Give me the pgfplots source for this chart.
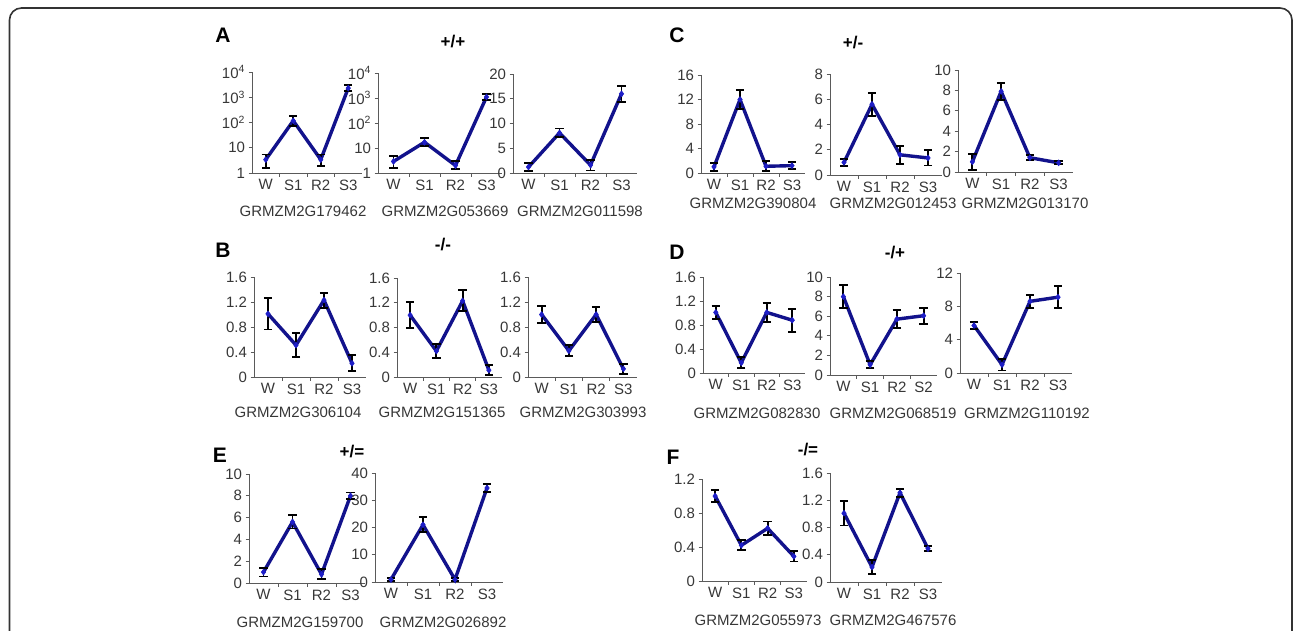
\documentclass[border=0pt]{standalone}
\usepackage{fontspec}
\setmainfont{Liberation Sans}
\usepackage{pgfplots}
\pgfplotsset{compat=1.18}
\definecolor{navyline}{RGB}{18,18,140}
\definecolor{navymark}{RGB}{30,30,200}
\definecolor{axgray}{RGB}{90,90,90}
\definecolor{txtgray}{RGB}{55,55,55}

\pgfplotsset{
  panel/.style={
    scale only axis, clip=false,
    axis lines*=left,
    axis line style={axgray,line width=0.9pt},
    xmin=0.5,xmax=4.5,
    xtick={1.5,2.5,3.5},xticklabels={},
    extra x ticks={1,2,3,4},
    extra x tick labels={W,S1,R2,S3},
    extra x tick style={major tick length=0pt},
    tick align=outside,major tick length=3.5pt,
    tick style={axgray,line width=0.9pt},
    ticklabel style={font=\fontsize{15}{17}\selectfont,text=txtgray},
    xticklabel style={yshift=-3pt},
    /pgf/number format/assume math mode=true,
  },
  series/.style={navyline,line width=3.4pt,
    mark=diamond*,mark size=3pt,mark options={navymark,line width=0.5pt},
    error bars/.cd,y dir=both,y explicit,
    error bar style={black,line width=1.9pt},
    error mark options={rotate=90,black,mark size=4.2pt,line width=1.9pt}},
}
\tikzset{
  gene/.style={font=\fontsize{15}{17}\selectfont,text=txtgray},
  letter/.style={font=\fontsize{21}{24}\selectfont\bfseries},
  group/.style={font=\fontsize{17}{20}\selectfont\bfseries},
}

\begin{document}
\begin{tikzpicture}
\useasboundingbox (0pt,0pt) rectangle (1293pt,-630pt);
\draw[line width=1.6pt,black!80,rounded corners=12pt]
  (9.5pt,-660pt) -- (9.5pt,-8pt) -- (1292pt,-8pt) -- (1292pt,-660pt);

% ---------- A : +/+
\node[letter] at (223pt,-35pt) {A};
\node[group] at (453pt,-42pt) {+/+};
\begin{axis}[panel,at={(252pt,-173pt)},width=110pt,height=101pt,
  ymode=log,ymin=1,ymax=10000,yminorticks=false,
  ytick={1,10,100,1000,10000},
  yticklabels={1,10,10\textsuperscript{2},10\textsuperscript{3},10\textsuperscript{4}}]
\addplot[series] coordinates {
  (1,3.4) += (0,2.0) -= (0,1.8)
  (2,117) += (0,68) -= (0,43)
  (3,3.4) += (0,2.0) -= (0,1.5)
  (4,2300) += (0,800) -= (0,600)};
\end{axis}
\begin{axis}[panel,at={(378pt,-173pt)},width=124pt,height=100pt,
  ymode=log,ymin=1,ymax=10000,yminorticks=false,
  ytick={1,10,100,1000,10000},
  yticklabels={1,10,10\textsuperscript{2},10\textsuperscript{3},10\textsuperscript{4}}]
\addplot[series] coordinates {
  (1,2.9) += (0,1.7) -= (0,1.3)
  (2,17) += (0,8) -= (0,5)
  (3,2.0) += (0,1.0) -= (0,0.6)
  (4,1100) += (0,400) -= (0,250)};
\end{axis}
\begin{axis}[panel,at={(513pt,-173pt)},width=124pt,height=99pt,
  ymin=0,ymax=20,ytick={0,5,10,15,20},yticklabels={0,5,10,15,20}]
\addplot[series] coordinates {
  (1,1.2) +- (0,0.8) (2,8.1) +- (0,0.9) (3,1.6) +- (0,1.1) (4,16) +- (0,1.6)};
\end{axis}
\node[gene] at (303pt,-211pt) {GRMZM2G179462};
\node[gene] at (445pt,-211pt) {GRMZM2G053669};
\node[gene] at (580pt,-211pt) {GRMZM2G011598};

% ---------- C : +/-
\node[letter] at (677pt,-35pt) {C};
\node[group] at (853pt,-43pt) {+/-};
\begin{axis}[panel,at={(701pt,-173pt)},width=104pt,height=98pt,
  ymin=0,ymax=16,ytick={0,4,8,12,16},yticklabels={0,4,8,12,16}]
\addplot[series] coordinates {
  (1,1.0) +- (0,0.7) (2,12) +- (0,1.6) (3,1.1) +- (0,0.8) (4,1.2) +- (0,0.6)};
\end{axis}
\begin{axis}[panel,at={(830pt,-175pt)},width=112pt,height=101pt,
  ymin=0,ymax=8,ytick={0,2,4,6,8},yticklabels={0,2,4,6,8}]
\addplot[series] coordinates {
  (1,1.0) +- (0,0.3) (2,5.6) +- (0,0.9) (3,1.6) +- (0,0.7) (4,1.35) +- (0,0.6)};
\end{axis}
\begin{axis}[panel,at={(958pt,-172pt)},width=115pt,height=102pt,
  ymin=0,ymax=10,ytick={0,2,4,6,8,10},yticklabels={0,2,4,6,8,10}]
\addplot[series] coordinates {
  (1,1.0) +- (0,0.8) (2,7.9) +- (0,0.85) (3,1.4) +- (0,0.25) (4,0.9) +- (0,0.15)};
\end{axis}
\node[gene] at (753pt,-203pt) {GRMZM2G390804};
\node[gene] at (893pt,-203pt) {GRMZM2G012453};
\node[gene] at (1025pt,-203pt) {GRMZM2G013170};

% ---------- B : -/-
\node[letter] at (223pt,-250pt) {B};
\node[group] at (443pt,-245pt) {-/-};
\begin{axis}[panel,at={(254pt,-377pt)},width=112pt,height=100pt,
  ymin=0,ymax=1.6,ytick={0,0.4,0.8,1.2,1.6},yticklabels={0,0.4,0.8,1.2,1.6}]
\addplot[series] coordinates {
  (1,1.01) +- (0,0.25) (2,0.51) +- (0,0.19) (3,1.23) +- (0,0.12) (4,0.22) +- (0,0.13)};
\end{axis}
\begin{axis}[panel,at={(397pt,-377pt)},width=105pt,height=99pt,
  ymin=0,ymax=1.6,ytick={0,0.4,0.8,1.2,1.6},yticklabels={0,0.4,0.8,1.2,1.6}]
\addplot[series] coordinates {
  (1,1.0) +- (0,0.21) (2,0.42) +- (0,0.12) (3,1.23) +- (0,0.17) (4,0.11) +- (0,0.08)};
\end{axis}
\begin{axis}[panel,at={(528pt,-377pt)},width=109pt,height=100pt,
  ymin=0,ymax=1.6,ytick={0,0.4,0.8,1.2,1.6},yticklabels={0,0.4,0.8,1.2,1.6}]
\addplot[series] coordinates {
  (1,1.0) +- (0,0.14) (2,0.42) +- (0,0.09) (3,1.0) +- (0,0.12) (4,0.13) +- (0,0.08)};
\end{axis}
\node[gene] at (298pt,-412pt) {GRMZM2G306104};
\node[gene] at (442pt,-412pt) {GRMZM2G151365};
\node[gene] at (583pt,-412pt) {GRMZM2G303993};

% ---------- D : -/+
\node[letter] at (677pt,-252pt) {D};
\node[group] at (895pt,-253pt) {-/+};
\begin{axis}[panel,at={(703pt,-373pt)},width=102pt,height=96pt,
  ymin=0,ymax=1.6,ytick={0,0.4,0.8,1.2,1.6},yticklabels={0,0.4,0.8,1.2,1.6}]
\addplot[series] coordinates {
  (1,1.01) +- (0,0.11) (2,0.17) +- (0,0.09) (3,1.01) +- (0,0.16) (4,0.88) +- (0,0.19)};
\end{axis}
\begin{axis}[panel,at={(830pt,-375pt)},width=107pt,height=98pt,
  extra x tick labels={W,S1,R2,S2},
  ymin=0,ymax=10,ytick={0,2,4,6,8,10},yticklabels={0,2,4,6,8,10}]
\addplot[series] coordinates {
  (1,8.0) +- (0,1.2) (2,1.05) +- (0,0.35) (3,5.7) +- (0,0.9) (4,6.05) +- (0,0.8)};
\end{axis}
\begin{axis}[panel,at={(960pt,-373pt)},width=112pt,height=100pt,
  ymin=0,ymax=12,ytick={0,4,8,12},yticklabels={0,4,8,12}]
\addplot[series] coordinates {
  (1,5.7) +- (0,0.4) (2,1.0) +- (0,0.7) (3,8.6) +- (0,0.8) (4,9.1) +- (0,1.3)};
\end{axis}
\node[gene] at (757pt,-413pt) {GRMZM2G082830};
\node[gene] at (893pt,-413pt) {GRMZM2G068519};
\node[gene] at (1027pt,-413pt) {GRMZM2G110192};

% ---------- E : +/=
\node[letter] at (220pt,-455pt) {E};
\node[group] at (352pt,-452pt) {+/=};
\begin{axis}[panel,at={(249pt,-583pt)},width=116pt,height=109pt,
  ymin=0,ymax=10,ytick={0,2,4,6,8,10},yticklabels={0,2,4,6,8,10}]
\addplot[series] coordinates {
  (1,1.0) +- (0,0.4) (2,5.6) +- (0,0.6) (3,0.8) +- (0,0.45) (4,8.0) +- (0,0.3)};
\end{axis}
\begin{axis}[panel,at={(375pt,-582pt)},width=128pt,height=109pt,
  ymin=0,ymax=40,ytick={0,10,20,30,40},yticklabels={0,10,20,30,40}]
\addplot[series] coordinates {
  (1,0.9) +- (0,0.5) (2,21) +- (0,2.8) (3,0.9) +- (0,0.5) (4,34.5) +- (0,1.4)};
\end{axis}
\node[gene] at (300pt,-622pt) {GRMZM2G159700};
\node[gene] at (443pt,-622pt) {GRMZM2G026892};

% ---------- F : -/=
\node[letter] at (673pt,-457pt) {F};
\node[group] at (808pt,-450pt) {-/=};
\begin{axis}[panel,at={(702pt,-581pt)},width=105pt,height=102pt,
  ymin=0,ymax=1.2,ytick={0,0.4,0.8,1.2},yticklabels={0,0.4,0.8,1.2}]
\addplot[series] coordinates {
  (1,1.0) +- (0,0.07) (2,0.42) +- (0,0.06) (3,0.62) +- (0,0.08) (4,0.29) +- (0,0.06)};
\end{axis}
\begin{axis}[panel,at={(830pt,-582pt)},width=112pt,height=109pt,
  ymin=0,ymax=1.6,ytick={0,0.4,0.8,1.2,1.6},yticklabels={0,0.4,0.8,1.2,1.6}]
\addplot[series] coordinates {
  (1,1.01) +- (0,0.18) (2,0.22) +- (0,0.1) (3,1.31) +- (0,0.06) (4,0.49) +- (0,0.04)};
\end{axis}
\node[gene] at (758pt,-620pt) {GRMZM2G055973};
\node[gene] at (893pt,-620pt) {GRMZM2G467576};
\end{tikzpicture}
\end{document}
